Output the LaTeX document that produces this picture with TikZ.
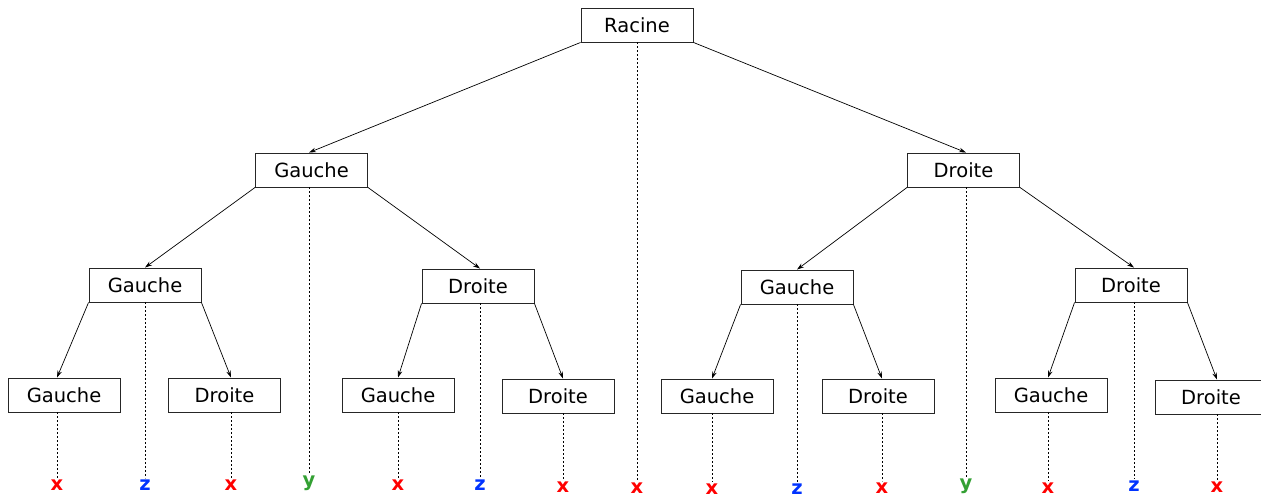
\documentclass[tikz,border=0pt]{standalone}
\usepackage{fontspec}
\setmainfont{DejaVu Sans}
\usepackage{tikz}
\usetikzlibrary{arrows.meta}

\definecolor{lblred}{RGB}{255,0,0}
\definecolor{lblblue}{RGB}{0,51,255}
\definecolor{lblgreen}{RGB}{51,160,51}

\tikzset{
  box/.style={draw=black!85, line width=0.9pt, minimum width=112pt, minimum height=34pt,
    inner sep=0pt, font=\fontsize{19.5}{23}\selectfont},
  lbl/.style={inner sep=1pt, font=\fontsize{19.5}{23}\selectfont\bfseries},
  arr/.style={line width=0.7pt, -{Stealth[length=7pt,width=4.5pt]}},
  stem/.style={line width=0.9pt, dash pattern=on 2pt off 2pt}
}

\begin{document}
\begin{tikzpicture}[x=1pt,y=-1pt]
  \useasboundingbox (0,0) rectangle (1261,498);
  % noeuds
  \node[box] (root) at (637,25) {Racine};
  \node[box] (l) at (311.5,170) {Gauche};
  \node[box] (r) at (963.5,170) {Droite};
  \node[box] (ll) at (145,285) {Gauche};
  \node[box] (lr) at (478,286) {Droite};
  \node[box] (rl) at (797,287) {Gauche};
  \node[box] (rr) at (1131,285) {Droite};
  \node[box] (lll) at (64,395) {Gauche};
  \node[box] (llr) at (224.5,395) {Droite};
  \node[box] (lrl) at (398,395) {Gauche};
  \node[box] (lrr) at (558,396) {Droite};
  \node[box] (rll) at (717,396) {Gauche};
  \node[box] (rlr) at (878,396) {Droite};
  \node[box] (rrl) at (1051,395) {Gauche};
  \node[box] (rrr) at (1211,397) {Droite};
  % etiquettes
  \node[lbl, lblred] (x-lll) at (57,485) {x};
  \node[lbl, lblblue] (z-ll) at (145,485) {z};
  \node[lbl, lblred] (x-llr) at (231,485) {x};
  \node[lbl, lblgreen] (y-l) at (309,483) {y};
  \node[lbl, lblred] (x-lrl) at (398,485) {x};
  \node[lbl, lblblue] (z-lr) at (480,485) {z};
  \node[lbl, lblred] (x-lrr) at (563,487) {x};
  \node[lbl, lblred] (x-root) at (637,488) {x};
  \node[lbl, lblred] (x-rll) at (712,489) {x};
  \node[lbl, lblblue] (z-rl) at (797,489) {z};
  \node[lbl, lblred] (x-rlr) at (882,488) {x};
  \node[lbl, lblgreen] (y-r) at (966,486) {y};
  \node[lbl, lblred] (x-rrl) at (1048,488) {x};
  \node[lbl, lblblue] (z-rr) at (1134,486) {z};
  \node[lbl, lblred] (x-rrr) at (1217,487) {x};
  % aretes
  \draw[arr] (root.south west) -- (l.north -| y-l);
  \draw[arr] (root.south east) -- (r.north -| y-r);
  \draw[arr] (l.south west) -- (ll.north -| z-ll);
  \draw[arr] (l.south east) -- (lr.north -| z-lr);
  \draw[arr] (r.south west) -- (rl.north -| z-rl);
  \draw[arr] (r.south east) -- (rr.north -| z-rr);
  \draw[arr] (ll.south west) -- (lll.north -| x-lll);
  \draw[arr] (ll.south east) -- (llr.north -| x-llr);
  \draw[arr] (lr.south west) -- (lrl.north -| x-lrl);
  \draw[arr] (lr.south east) -- (lrr.north -| x-lrr);
  \draw[arr] (rl.south west) -- (rll.north -| x-rll);
  \draw[arr] (rl.south east) -- (rlr.north -| x-rlr);
  \draw[arr] (rr.south west) -- (rrl.north -| x-rrl);
  \draw[arr] (rr.south east) -- (rrr.north -| x-rrr);
  % pointilles
  \draw[stem] (root.south -| x-root) -- (x-root.north);
  \draw[stem] (l.south -| y-l) -- (y-l.north);
  \draw[stem] (r.south -| y-r) -- (y-r.north);
  \draw[stem] (ll.south -| z-ll) -- (z-ll.north);
  \draw[stem] (lr.south -| z-lr) -- (z-lr.north);
  \draw[stem] (rl.south -| z-rl) -- (z-rl.north);
  \draw[stem] (rr.south -| z-rr) -- (z-rr.north);
  \draw[stem] (lll.south -| x-lll) -- (x-lll.north);
  \draw[stem] (llr.south -| x-llr) -- (x-llr.north);
  \draw[stem] (lrl.south -| x-lrl) -- (x-lrl.north);
  \draw[stem] (lrr.south -| x-lrr) -- (x-lrr.north);
  \draw[stem] (rll.south -| x-rll) -- (x-rll.north);
  \draw[stem] (rlr.south -| x-rlr) -- (x-rlr.north);
  \draw[stem] (rrl.south -| x-rrl) -- (x-rrl.north);
  \draw[stem] (rrr.south -| x-rrr) -- (x-rrr.north);
\end{tikzpicture}
\end{document}
